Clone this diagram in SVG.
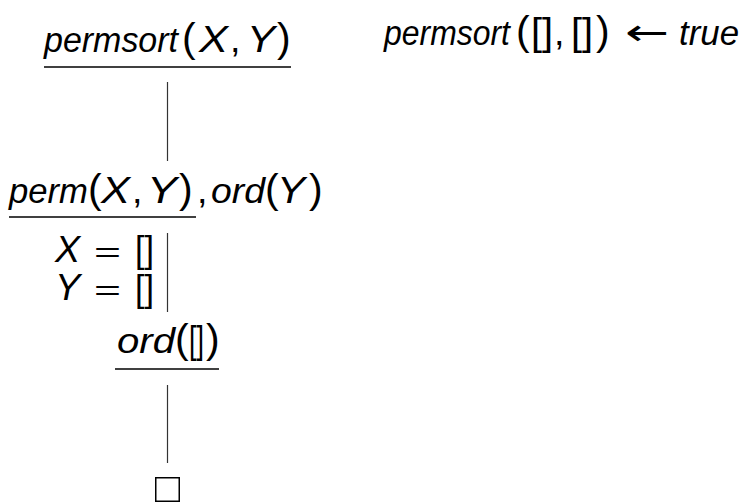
<svg xmlns="http://www.w3.org/2000/svg" width="742" height="503" viewBox="0 0 742 503">
<style>
text{font-family:"Liberation Sans",Arial,sans-serif;fill:#000;font-style:normal;font-size:37.7px}
.w{font-style:italic;font-size:35px}
.c{font-style:italic;font-size:37.7px}
.p{font-size:41px}
.b{font-size:39px}
.bs{font-size:37px}
.eq{font-size:28px}
.ar{font-family:"DejaVu Sans",sans-serif;font-size:37px}
.ul{stroke:#000;stroke-width:1.5}
.edge{stroke:#333;stroke-width:1.2}
</style>
<rect width="742" height="503" fill="#fff"/>
<g id="goal1">
<text class="w" x="44" y="52" textLength="134" lengthAdjust="spacingAndGlyphs">permsort</text>
<text class="p" x="182" y="52">(</text>
<text class="c" x="199" y="52" textLength="29" lengthAdjust="spacingAndGlyphs">X</text>
<text x="230" y="52">,</text>
<text class="c" x="247" y="52" textLength="28" lengthAdjust="spacingAndGlyphs">Y</text>
<text class="p" x="277" y="52">)</text>
<line class="ul" x1="44" y1="67" x2="291" y2="67"/>
</g>
<g id="clause">
<text class="w" x="384" y="45" textLength="126" lengthAdjust="spacingAndGlyphs">permsort</text>
<text class="p" x="516" y="45">(</text>
<text class="b" x="531" y="45" textLength="22" lengthAdjust="spacingAndGlyphs">[]</text>
<text x="554" y="45">,</text>
<text class="b" x="571" y="45" textLength="22" lengthAdjust="spacingAndGlyphs">[]</text>
<text class="p" x="596" y="45">)</text>
<text class="ar" x="625" y="45" textLength="44" lengthAdjust="spacingAndGlyphs">←</text>
<text class="w" x="679" y="45" textLength="60" lengthAdjust="spacingAndGlyphs">true</text>
</g>
<g id="goal2">
<text class="w" x="9" y="203" textLength="79" lengthAdjust="spacingAndGlyphs">perm</text>
<text class="p" x="88" y="203">(</text>
<text class="c" x="101" y="203" textLength="29" lengthAdjust="spacingAndGlyphs">X</text>
<text x="132" y="203">,</text>
<text class="c" x="147" y="203" textLength="30" lengthAdjust="spacingAndGlyphs">Y</text>
<text class="p" x="179" y="203">)</text>
<text x="197" y="203">,</text>
<text class="w" x="211" y="203" textLength="54" lengthAdjust="spacingAndGlyphs">ord</text>
<text class="p" x="265" y="203">(</text>
<text class="c" x="277" y="203" textLength="28" lengthAdjust="spacingAndGlyphs">Y</text>
<text class="p" x="309" y="203">)</text>
<line class="ul" x1="9" y1="217" x2="196" y2="217"/>
</g>
<g id="subst">
<text class="c" x="55" y="262">X</text>
<text class="eq" x="94" y="262" textLength="27" lengthAdjust="spacingAndGlyphs">=</text>
<text class="bs" x="135" y="262" textLength="19" lengthAdjust="spacingAndGlyphs">[]</text>
<text class="c" x="55" y="300">Y</text>
<text class="eq" x="94" y="300" textLength="27" lengthAdjust="spacingAndGlyphs">=</text>
<text class="bs" x="135" y="301" textLength="19" lengthAdjust="spacingAndGlyphs">[]</text>
</g>
<g id="goal3">
<text class="w" x="117" y="353" textLength="58" lengthAdjust="spacingAndGlyphs">ord</text>
<text class="p" x="175" y="353">(</text>
<text class="b" x="189" y="353" textLength="15" lengthAdjust="spacingAndGlyphs">[]</text>
<text class="p" x="206" y="353">)</text>
<line class="ul" x1="115" y1="369" x2="219" y2="369"/>
</g>
<g id="empty">
<rect x="155.75" y="477.75" width="23.5" height="23.5" fill="none" stroke="#000" stroke-width="1.5"/>
</g>
<g id="connectors">
<line class="edge" x1="167.5" y1="82" x2="167.5" y2="161"/>
<line class="edge" x1="167.5" y1="233" x2="167.5" y2="312"/>
<line class="edge" x1="167.5" y1="385" x2="167.5" y2="463"/>
</g>
</svg>
